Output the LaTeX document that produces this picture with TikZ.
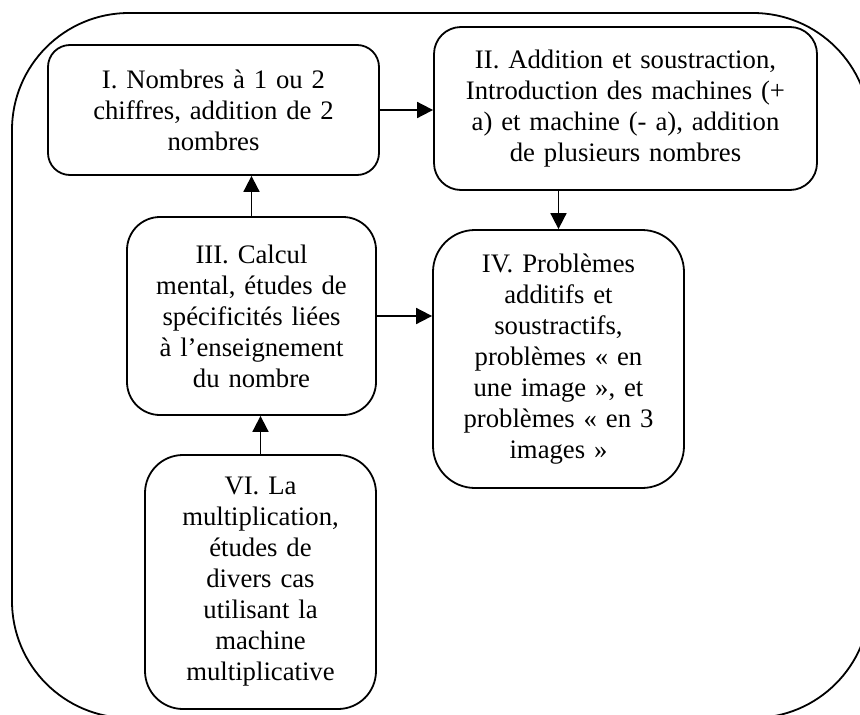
\documentclass[tikz,border=0pt]{standalone}
\usepackage{fontspec}
\setmainfont{Liberation Serif}
\usetikzlibrary{arrows.meta}
\tikzset{
    etape/.style={draw, line width=1.8pt, align=center, inner sep=0pt,
        font=\fontsize{26.7}{31}\selectfont},
    lien/.style={line width=1.8pt, ->},
}
\begin{document}
\begin{tikzpicture}[x=1pt, y=-1pt, >={Triangle[length=16pt,width=16pt]}]
    \useasboundingbox (0,0) rectangle (860,715);
    \clip (0,0) rectangle (860,715);
    \draw [line width=1.8pt, rounded corners=117pt] (12,13) rectangle (870,718);
    \node [etape, rounded corners=22pt, minimum width=331pt, minimum height=130pt, text width=311pt]
        (I) at (213.5,110) {I. Nombres à 1 ou 2\\ chiffres, addition de 2\\ nombres};
    \node [etape, rounded corners=27pt, minimum width=383pt, minimum height=163pt, text width=363pt]
        (II) at (625.5,108.5) {II. Addition et soustraction,\\ Introduction des machines (+\\ a) et machine (- a), addition\\ de plusieurs nombres};
    \node [etape, rounded corners=33pt, minimum width=249pt, minimum height=198pt, text width=229pt]
        (III) at (251.5,316) {III. Calcul\\ mental, études de\\ spécificités liées\\ à l’enseignement\\ du nombre};
    \node [etape, rounded corners=42pt, minimum width=251pt, minimum height=258pt, text width=231pt]
        (IV) at (558.5,359) {IV. Problèmes\\ additifs et\\ soustractifs,\\ problèmes « en\\ une image », et\\ problèmes « en 3\\ images »};
    \node [etape, rounded corners=38pt, minimum width=231pt, minimum height=254pt, text width=211pt]
        (VI) at (260.5,582) {VI. La\\ multiplication,\\ études de\\ divers cas\\ utilisant la\\ machine\\ multiplicative};
    \draw [lien] (I.east) -- (I.east -| II.west);
    \draw [lien] (IV.north |- II.south) -- (IV.north);
    \draw [lien] (III.north) -- (III.north |- I.south);
    \draw [lien] (III.east) -- (III.east -| IV.west);
    \draw [lien] (VI.north) -- (VI.north |- III.south);
\end{tikzpicture}
\end{document}
